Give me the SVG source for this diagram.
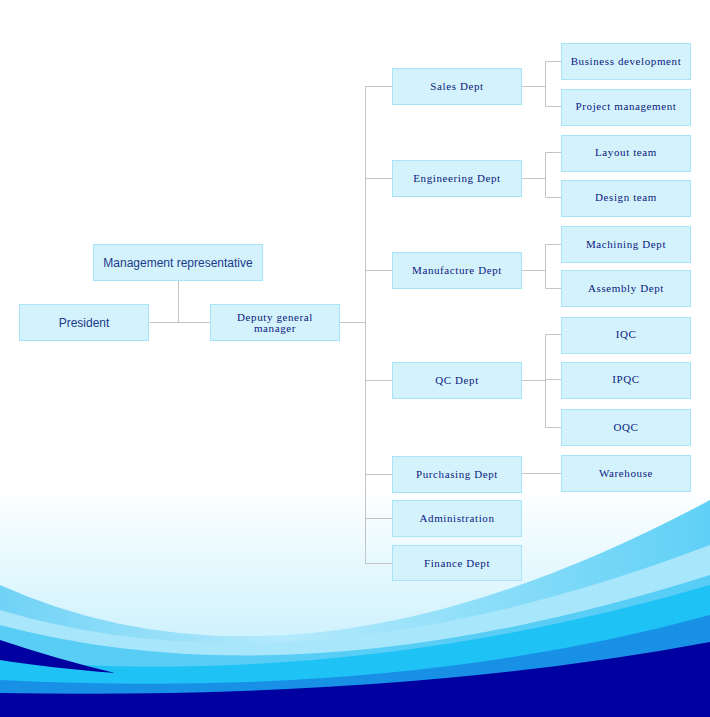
<svg xmlns="http://www.w3.org/2000/svg" width="710" height="717" viewBox="0 0 710 717">
<defs>
<linearGradient id="sky" x1="0" y1="0" x2="0" y2="1">
<stop offset="0" stop-color="#ffffff"/><stop offset="0.68" stop-color="#ffffff"/><stop offset="0.92" stop-color="#c8f0fd"/><stop offset="1" stop-color="#a8e6fb"/>
</linearGradient>
<linearGradient id="glow" x1="0" y1="0" x2="1" y2="0">
<stop offset="0" stop-color="#70d2f6"/><stop offset="0.4" stop-color="#b4eafc"/><stop offset="1" stop-color="#60d0f6"/>
</linearGradient>
<style>
.n rect{fill:#d4f2fc;stroke:#a8e4f8;stroke-width:1}
.n text{font-family:"Liberation Serif",serif;font-size:11px;fill:#0a1a80;text-anchor:middle;letter-spacing:0.6px}
.n text.s{font-family:"Liberation Sans",sans-serif;font-size:12px;fill:#1a3a8a;letter-spacing:0}
.c{stroke:#c4c4c4;stroke-width:1;fill:none}
</style>
</defs>
<rect width="710" height="717" fill="url(#sky)"/>
<path d="M0 585 Q300 720 710 500 V717 H0Z" fill="url(#glow)"/>
<path d="M0 610 Q300 700 710 545 V717 H0Z" fill="#a8e6fb"/>
<path d="M0 625 Q300 705 710 575 V717 H0Z" fill="#58cdf5"/>
<path d="M0 660 Q350 690 710 585 V717 H0Z" fill="#1ec2f5"/>
<path d="M0 680 Q400 700 710 615 V717 H0Z" fill="#1890e6"/>
<path d="M0 693 Q400 700 710 642 V717 H0Z" fill="#0000a0"/>
<path d="M0 640 Q60 660 115 673 Q50 668 0 660Z" fill="#0000a0"/>
<g id="connectors">
<path class="c" d="M149.5 322.5H210M178.5 281V322.5M340 322.5H365.5M365.5 86.5V563.5M365.5 86.5H392M365.5 178.5H392M365.5 270.5H392M365.5 380.5H392M365.5 474.5H392M365.5 518.5H392M365.5 563.5H392"/>
<path class="c" d="M521 86.5H545.5M545.5 61.5V106.5M545.5 61.5H561M545.5 106.5H561"/>
<path class="c" d="M521 178.5H545.5M545.5 152.5V197.5M545.5 152.5H561M545.5 197.5H561"/>
<path class="c" d="M521 270.5H545.5M545.5 244.5V288.5M545.5 244.5H561M545.5 288.5H561"/>
<path class="c" d="M521 380.5H545.5M545.5 334.5V427.5M545.5 334.5H561M545.5 379.5H561M545.5 427.5H561"/>
<path class="c" d="M521 473.5H561"/>
</g>
<g id="president" class="n"><rect x="19.5" y="304.5" width="129" height="36"/><text class="s" x="84" y="327">President</text></g>
<g id="mgmt" class="n"><rect x="93.5" y="244.5" width="169" height="36"/><text class="s" x="178" y="267">Management representative</text></g>
<g id="deputy" class="n"><rect x="210.5" y="304.5" width="129" height="36"/><text x="275" y="321">Deputy general</text><text x="275" y="332">manager</text></g>
<g id="sales" class="n"><rect x="392.5" y="68.5" width="129" height="36"/><text x="457" y="90">Sales Dept</text></g>
<g id="eng" class="n"><rect x="392.5" y="160.5" width="129" height="36"/><text x="457" y="182">Engineering Dept</text></g>
<g id="manu" class="n"><rect x="392.5" y="252.5" width="129" height="36"/><text x="457" y="274">Manufacture Dept</text></g>
<g id="qc" class="n"><rect x="392.5" y="362.5" width="129" height="36"/><text x="457" y="384">QC Dept</text></g>
<g id="purch" class="n"><rect x="392.5" y="456.5" width="129" height="36"/><text x="457" y="478">Purchasing Dept</text></g>
<g id="admin" class="n"><rect x="392.5" y="500.5" width="129" height="36"/><text x="457" y="522">Administration</text></g>
<g id="fin" class="n"><rect x="392.5" y="545.5" width="129" height="35"/><text x="457" y="567">Finance Dept</text></g>
<g id="bizdev" class="n"><rect x="561.5" y="43.5" width="129" height="36"/><text x="626" y="65">Business development</text></g>
<g id="proj" class="n"><rect x="561.5" y="89.5" width="129" height="36"/><text x="626" y="110">Project management</text></g>
<g id="layout" class="n"><rect x="561.5" y="135.5" width="129" height="36"/><text x="626" y="156">Layout team</text></g>
<g id="design" class="n"><rect x="561.5" y="180.5" width="129" height="36"/><text x="626" y="201">Design team</text></g>
<g id="mach" class="n"><rect x="561.5" y="226.5" width="129" height="36"/><text x="626" y="248">Machining Dept</text></g>
<g id="assy" class="n"><rect x="561.5" y="270.5" width="129" height="36"/><text x="626" y="292">Assembly Dept</text></g>
<g id="iqc" class="n"><rect x="561.5" y="317.5" width="129" height="36"/><text x="626" y="338">IQC</text></g>
<g id="ipqc" class="n"><rect x="561.5" y="362.5" width="129" height="36"/><text x="626" y="383">IPQC</text></g>
<g id="oqc" class="n"><rect x="561.5" y="409.5" width="129" height="36"/><text x="626" y="431">OQC</text></g>
<g id="wh" class="n"><rect x="561.5" y="455.5" width="129" height="36"/><text x="626" y="477">Warehouse</text></g>
</svg>
